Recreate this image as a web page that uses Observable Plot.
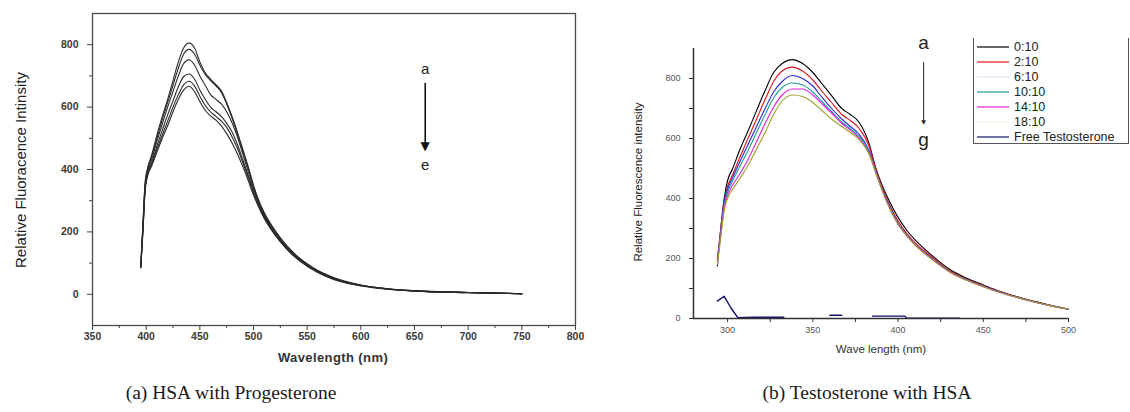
<!DOCTYPE html>
<html><head><meta charset="utf-8">
<script src="https://cdn.jsdelivr.net/npm/d3@7"></script>
<script src="https://cdn.jsdelivr.net/npm/@observablehq/plot@0.6"></script>
<style>
body{margin:0;background:#fff;}
#root{position:relative;width:1130px;height:412px;overflow:hidden;font-family:Arial,"Liberation Sans",sans-serif;background:#fff;}
.abs{position:absolute;white-space:nowrap;}
.cap{font-family:"Liberation Serif","DejaVu Serif",serif;font-size:19.5px;color:#1a1a1a;}
.rot{transform:translate(-50%,-50%) rotate(-90deg);}
.ctr{transform:translate(-50%,-50%);}
</style></head><body><div id="root"></div>
<script>
// ---------- Panel (a): HSA with Progesterone ----------
const wlA = [395,397,399,401,405,410,415,420,425,430,435,440,445,450,455,460,465,470,475,480,485,490,495,500,505,510,520,530,540,550,560,570,580,600,625,650,700,750];
const progA = [90,230,360,400,445,510,570,625,685,745,790,805,790,745,710,690,672,652,615,570,520,465,410,350,300,262,205,160,125,98,76,60,47,30,18,12,6,2];
const progB = [95,220,350,395,440,500,560,615,670,725,770,785,770,735,705,685,668,648,610,565,515,460,405,345,295,258,202,158,122,96,75,59,46,29,18,11,6,2];
const progC = [85,215,345,390,430,490,545,600,650,700,740,752,735,700,670,640,625,610,585,550,505,450,395,340,292,255,198,155,120,95,74,58,45,29,17,11,6,2];
const progD = [90,210,340,385,420,475,525,575,620,665,698,706,690,655,625,600,585,570,548,520,480,432,382,330,285,250,195,152,118,93,72,56,44,28,17,11,6,2];
const progE = [88,205,335,380,415,465,510,555,600,640,672,683,668,635,605,585,570,555,535,505,468,422,375,325,282,247,193,150,117,92,71,55,43,28,17,10,5,2];
const progF = [85,200,330,375,410,455,500,540,585,625,655,667,650,618,590,572,558,540,515,485,450,410,365,318,278,243,190,148,115,90,70,54,42,27,16,10,5,2];
const curvesA = [progA, progB, progC, progD, progE, progF];
const ticksAX = [350,400,450,500,550,600,650,700,750,800];
const minorAX = [375,425,475,525,575,625,675,725,775];
const ticksAY = [0,200,400,600,800];
const minorAY = [100,300,500,700];
const annA = [{t:"a", x:660, y:721}, {t:"e", x:660, y:414}];
const arrowA = [{x:660, y1:676, y2:480}];
const headA = [{x:660, y:475}];

// ---------- Panel (b): Testosterone with HSA ----------
const wlB = [294,296,298,300,303,307,312,317,322,327,332,338,344,350,355,361,367,372,377,383,387,391,395,400,405,410,420,430,440,450,460,470,480,490,500];
const r0_10  = [175,300,400,460,500,560,625,693,760,820,850,863,850,820,785,743,700,680,655,583,500,440,390,337,295,262,210,165,135,112,90,72,57,43,31];
const r2_10  = [200,300,390,440,480,535,600,665,730,790,825,838,825,795,760,720,680,660,635,575,498,435,380,325,285,252,205,160,132,110,89,71,56,43,31];
const r6_10  = [190,290,390,430,470,520,580,640,700,755,790,810,800,775,740,700,665,640,615,560,490,428,375,318,280,248,200,158,130,108,88,70,55,42,31];
const r10_10 = [200,290,380,420,460,505,560,620,680,735,770,785,778,755,725,690,655,632,608,555,488,425,372,316,278,246,198,157,129,107,87,70,55,42,31];
const r14_10 = [190,280,370,410,445,480,530,590,650,705,745,765,765,745,718,685,650,628,602,550,485,422,368,314,276,245,197,156,128,106,87,70,55,42,31];
const r18_10 = [180,270,360,400,430,465,510,565,620,680,725,745,740,720,695,665,640,620,598,548,484,422,368,314,276,245,197,156,128,106,87,70,55,42,31];
const wlFree = [294,298,302,306,315,325,333,334,360,367,368,385,404,405,436];
const freeT  = [58,74,35,3,4,4,4,null,11,11,null,8,8,1,1];
const seriesB = ["0:10","2:10","6:10","10:10","14:10","18:10","Free Testosterone"];
const colorsB = ["#000000","#e0141e","#2a2ad8","#1f9c9e","#e21fe2","#a0a024","#12126e"];
const curvesB = [r0_10, r2_10, r6_10, r10_10, r14_10, r18_10];
const ticksBX = [300,350,400,450,500];
const minorBX = [325,375,425,475];
const ticksBY = [0,200,400,600,800];
const minorBY = [100,300,500,700];
const annB = [{t:"a", x:415, y:918}, {t:"g", x:415, y:595}];
const arrowB = [{x:415, y1:853, y2:660}];
const headB = [{x:415, y:655}];

// ---------- build rows ----------
const rowsA = [];
curvesA.forEach((arr, i) => arr.forEach((v, j) => rowsA.push({wl: wlA[j], v, s: i})));
const rowsB = [];
curvesB.forEach((arr, i) => arr.forEach((v, j) => rowsB.push({wl: wlB[j], v, s: seriesB[i]})));
const rowsFree = wlFree.map((w, j) => ({wl: w, v: freeT[j], s: seriesB[6]}));

const root = document.getElementById("root");

const plotA = Plot.plot({
  width: 600, height: 370,
  marginLeft: 92, marginRight: 25, marginTop: 13, marginBottom: 45,
  x: {domain: [350, 800]},
  y: {domain: [-100, 900]},
  style: {fontFamily: "Arial, 'Liberation Sans', sans-serif", fontSize: "10px", color: "#3a3a3a", background: "transparent"},
  marks: [
    Plot.frame({stroke: "#4a4a4a", strokeWidth: 1.3}),
    Plot.axisX(ticksAX, {tickSize: 5, tickPadding: 2, fontWeight: "bold", fontSize: 10.5, label: null, stroke: "#444"}),
    Plot.axisX(minorAX, {tickSize: 3, tickFormat: () => "", label: null, stroke: "#444"}),
    Plot.axisY(ticksAY, {tickSize: 5, tickPadding: 9, fontWeight: "bold", fontSize: 10.5, label: null, stroke: "#444"}),
    Plot.axisY(minorAY, {tickSize: 3, tickFormat: () => "", label: null, stroke: "#444"}),
    Plot.line(rowsA, {x: "wl", y: "v", z: "s", stroke: "#2a2a2a", strokeWidth: 1.1, curve: "monotone-x"}),
    Plot.ruleX(arrowA, {x: "x", y1: "y1", y2: "y2", stroke: "#111", strokeWidth: 1.6}),
    Plot.text(headA, {x: "x", y: "y", text: () => "\u25BC", fontSize: 12, fill: "#111", fontFamily: "DejaVu Sans"}),
    Plot.text(annA, {x: "x", y: "y", text: "t", fontSize: 15, fill: "#222"})
  ]
});
plotA.style.position = "absolute"; plotA.style.left = "0px"; plotA.style.top = "0px";
root.appendChild(plotA);

const plotB = Plot.plot({
  width: 530, height: 370,
  marginLeft: 93, marginRight: 62, marginTop: 48, marginBottom: 52,
  x: {domain: [280, 500]},
  y: {domain: [0, 900]},
  color: {domain: seriesB, range: colorsB},
  style: {fontFamily: "Arial, 'Liberation Sans', sans-serif", fontSize: "9px", color: "#555", background: "transparent"},
  marks: [
    Plot.axisX(ticksBX, {tickSize: 4, tickPadding: 4, fontSize: 9, label: null, stroke: "#333"}),
    Plot.axisX(minorBX, {tickSize: 4, tickFormat: () => "", label: null, stroke: "#333"}),
    Plot.axisY(ticksBY, {tickSize: 4, tickPadding: 9, fontSize: 9, label: null, stroke: "#333"}),
    Plot.axisY(minorBY, {tickSize: 4, tickFormat: () => "", label: null, stroke: "#333"}),
    Plot.line(rowsB, {x: "wl", y: "v", z: "s", stroke: "s", strokeWidth: 1.1, curve: "monotone-x"}),
    Plot.line(rowsFree, {x: "wl", y: "v", stroke: "s", strokeWidth: 1.4}),
    Plot.ruleX([280], {stroke: "#333", strokeWidth: 1.5}),
    Plot.ruleY([0], {stroke: "#333", strokeWidth: 1.5}),
    Plot.ruleX(arrowB, {x: "x", y1: "y1", y2: "y2", stroke: "#222", strokeWidth: 1}),
    Plot.text(headB, {x: "x", y: "y", text: () => "\u25BC", fontSize: 6, fill: "#222", fontFamily: "DejaVu Sans"}),
    Plot.text(annB, {x: "x", y: "y", text: "t", fontSize: 19, fill: "#222"})
  ]
});
plotB.style.position = "absolute"; plotB.style.left = "600px"; plotB.style.top = "0px";
root.appendChild(plotB);

// ---------- HTML text: axis titles, captions ----------
function addText(txt, x, y, cls, css) {
  const d = document.createElement("div");
  d.className = "abs " + cls;
  d.textContent = txt;
  d.style.left = x + "px"; d.style.top = y + "px";
  Object.assign(d.style, css || {});
  root.appendChild(d);
}
addText("Relative Fluoracence Intinsity", 20, 170, "rot", {fontSize: "15px", color: "#222"});
addText("Wavelength (nm)", 333, 357, "ctr", {fontSize: "13px", fontWeight: "bold", color: "#333", letterSpacing: "0.4px"});
addText("Relative Fluorescence intensity", 638, 182, "rot", {fontSize: "11.5px", color: "#222"});
addText("Wave length (nm)", 881, 349, "ctr", {fontSize: "11.5px", color: "#333"});
addText("(a) HSA with Progesterone", 231, 393, "ctr cap", {});
addText("(b) Testosterone with HSA", 867, 393, "ctr cap", {});

// ---------- legend for panel (b) ----------
const leg = document.createElement("div");
leg.className = "abs";
Object.assign(leg.style, {left: "973px", top: "38px", width: "154px", height: "105px",
  borderLeft: "1.5px solid #555", borderRight: "1.5px solid #555", borderBottom: "1.5px solid #555"});
seriesB.forEach((name, i) => {
  const row = document.createElement("div");
  Object.assign(row.style, {position: "absolute", left: "3px", top: (1 + i * 15) + "px", height: "15px",
    display: "flex", alignItems: "center", fontSize: "12.5px", color: "#222"});
  const faint = (name === "6:10" || name === "18:10");
  row.innerHTML = `<svg width="32" height="4" style="margin-right:5px"><line x1="0" x2="32" y1="2" y2="2" stroke="${colorsB[i]}" stroke-width="1.2" stroke-opacity="${faint ? 0.12 : 1}"/></svg>`;
  const s = document.createElement("span");
  s.textContent = name;
  row.appendChild(s);
  leg.appendChild(row);
});
root.appendChild(leg);
</script></body></html>
